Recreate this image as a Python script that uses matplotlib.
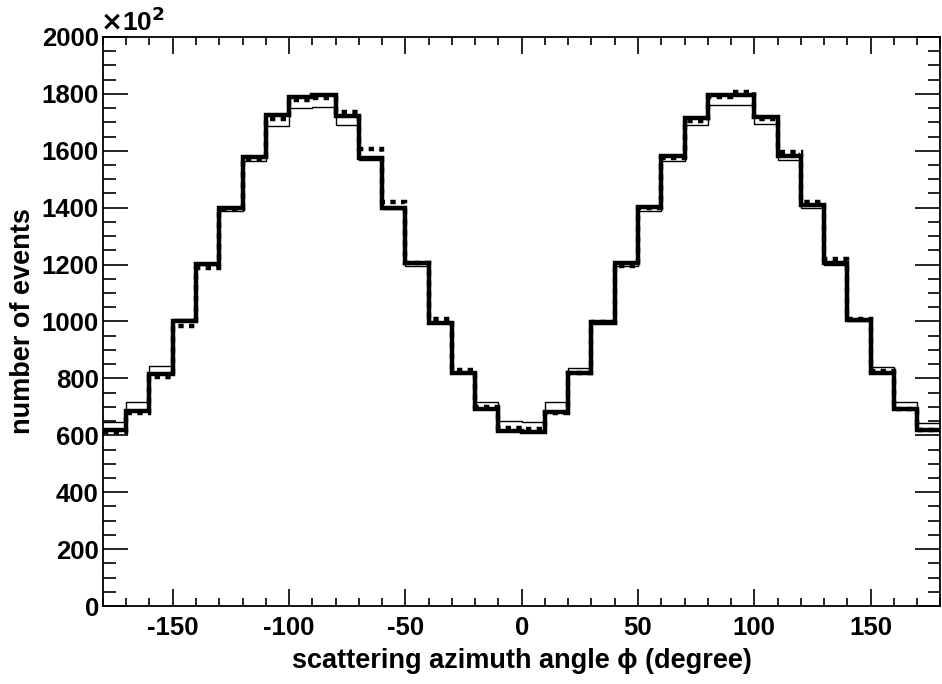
import numpy as np
import matplotlib
matplotlib.use("Agg")
import matplotlib.pyplot as plt
from matplotlib.ticker import MultipleLocator

plt.rcParams['font.family'] = ['Liberation Sans', 'DejaVu Sans']
plt.rcParams['font.weight'] = 'bold'
plt.rcParams['axes.unicode_minus'] = False

# bin edges in degrees, contents in units of 10^2 events
edges = np.arange(-180, 181, 10)
thick = [617, 685, 814, 1000, 1202, 1400, 1579, 1724, 1790, 1795, 1722, 1573,
         1398, 1205, 995, 820, 691, 615, 613, 681, 818, 995, 1207, 1404,
         1582, 1714, 1795, 1797, 1720, 1582, 1409, 1207, 1005, 818, 692, 619]
dotted = [610, 680, 806, 983, 1187, 1395, 1571, 1711, 1780, 1787, 1736, 1605,
          1419, 1205, 1010, 828, 701, 625, 621, 680, 820, 998, 1195, 1398,
          1575, 1703, 1790, 1806, 1712, 1595, 1421, 1218, 1008, 826, 693, 619]
thin = [646, 716, 844, 1008, 1200, 1390, 1564, 1686, 1751, 1755, 1690, 1567,
        1395, 1195, 993, 820, 716, 650, 646, 718, 838, 1005, 1195, 1390,
        1564, 1689, 1760, 1760, 1693, 1567, 1398, 1200, 1000, 841, 718, 644]

fig = plt.figure(figsize=(9.42, 6.84), dpi=100)
ax = fig.add_axes([0.1093, 0.114, 0.889, 0.832])

ax.stairs(dotted, edges, baseline=None, color='black', lw=3.2, linestyle=(0, (1.2, 1.2)))
ax.stairs(thick, edges, baseline=None, color='black', lw=3.2)
ax.stairs(thin, edges, baseline=None, color='black', lw=1)

ax.set_xlim(-180, 180)
ax.set_ylim(0, 2000)
ax.xaxis.set_major_locator(MultipleLocator(50))
ax.xaxis.set_minor_locator(MultipleLocator(10))
ax.yaxis.set_major_locator(MultipleLocator(200))
ax.yaxis.set_minor_locator(MultipleLocator(50))
ax.tick_params(which='both', direction='in', top=True, right=True, width=1.2)
ax.tick_params(axis='x', which='major', length=12, labelsize=18.5, pad=7)
ax.tick_params(axis='x', which='minor', length=6)
ax.tick_params(axis='y', which='major', length=18, labelsize=18.5, pad=3)
ax.tick_params(axis='y', which='minor', length=9)
for lab in ax.get_xticklabels() + ax.get_yticklabels():
    lab.set_fontweight('bold')
for s in ax.spines.values():
    s.set_linewidth(1.3)

ax.set_xlabel('scattering azimuth angle \u03d5 (degree)', fontsize=19.5, fontweight='bold', labelpad=6)
ax.set_ylabel('number of events', fontsize=19.5, fontweight='bold', labelpad=4)
fig.text(0.106, 0.948, r'$\times$10$^{2}$', fontsize=19, fontweight='bold', ha='left', va='bottom')

fig.savefig('out.png', dpi=100)
